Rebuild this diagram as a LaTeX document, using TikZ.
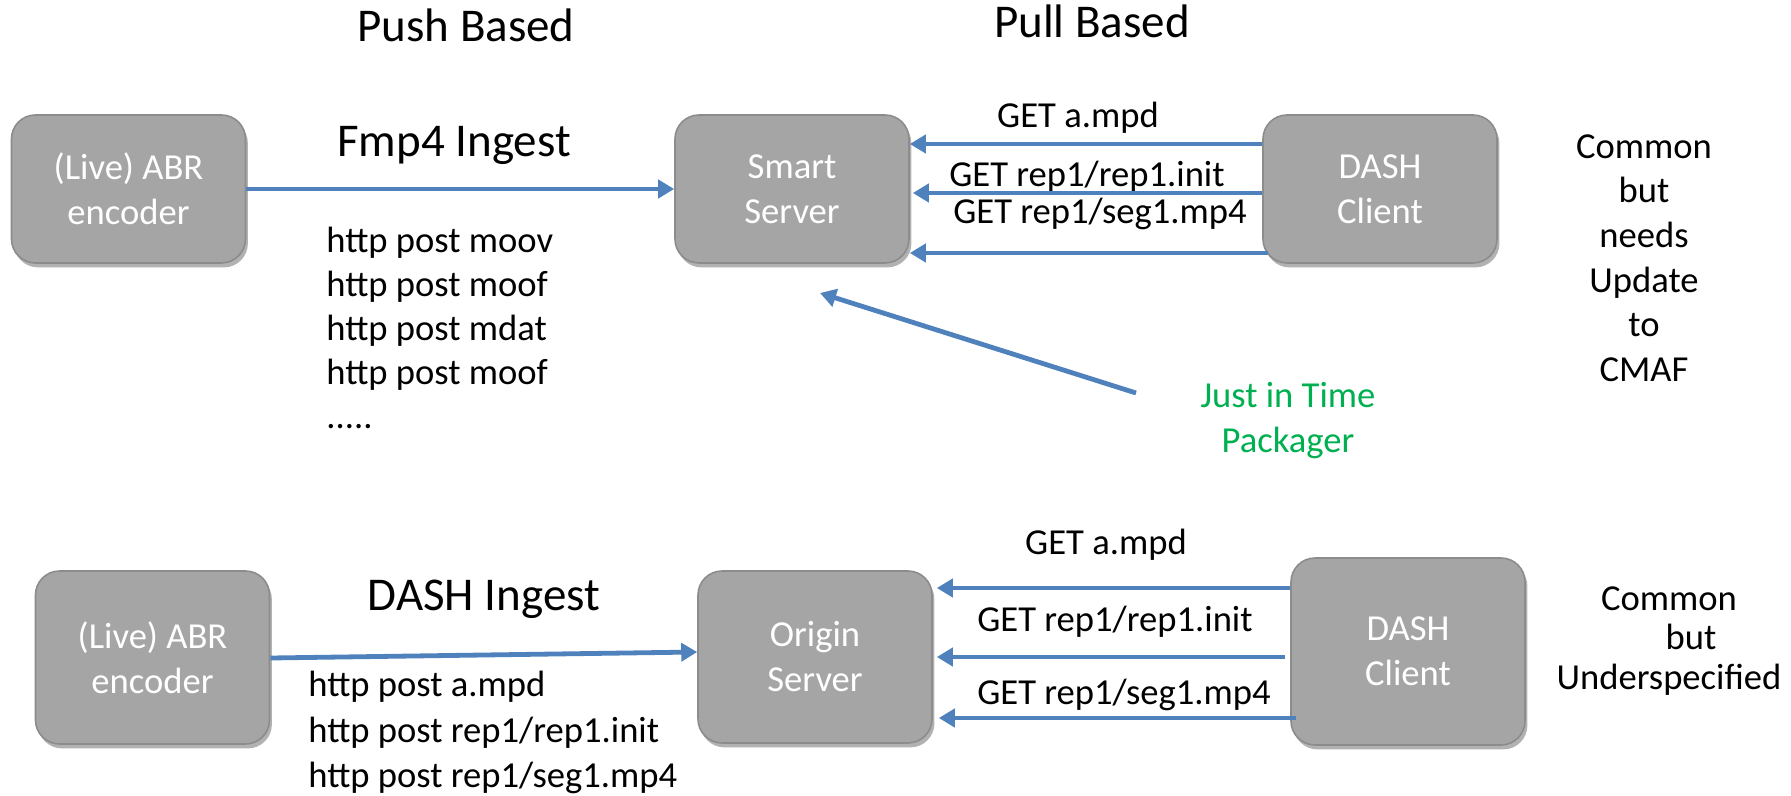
\documentclass[tikz,border=0pt]{standalone}
\usepackage{fontspec}
\setmainfont{Carlito}
\usetikzlibrary{arrows.meta,shadows}
\definecolor{boxfill}{HTML}{A5A5A5}
\definecolor{boxline}{HTML}{8C8C8C}
\definecolor{flowblue}{HTML}{4F81BD}
\definecolor{jitgreen}{HTML}{00B050}

\begin{document}
\begin{tikzpicture}[x=0.5pt,y=-0.5pt,
  box/.style={draw=boxline, fill=boxfill, line width=0.8pt, rounded corners=12pt,
    minimum width=117pt, text=white, align=center, inner sep=0pt,
    font=\fontsize{18.3}{22.5}\selectfont,
    drop shadow={shadow xshift=1.2pt, shadow yshift=-2.2pt, opacity=0.3, fill=black}},
  flow/.style={draw=flowblue, line width=2.4pt, -{Triangle[length=8pt,width=9pt]}},
  txt/.style={inner sep=0pt, font=\fontsize{18.3}{18.3}\selectfont},
  head/.style={inner sep=0pt, font=\fontsize{23.5}{23.5}\selectfont},
  lines/.style={inner sep=0pt, align=left, anchor=north west}
]
\useasboundingbox (0,0) rectangle (1791,796);

% column titles
\node[head] (push) at (466,25) {Push Based};
\node[head] (pull) at (1092,21) {Pull Based};

% ---- upper row: fmp4 ingest into a smart server ----
\node[box, minimum height=74pt] (enc1) at (128.5,189) {(Live) ABR\\encoder};
\node[box, minimum height=74pt] (smart) at (792,189) {Smart\\Server};
\node[box, minimum height=74pt] (client1) at (1380,189) {DASH\\Client};

\node[head] (fmp4) at (454,145) {Fmp4 Ingest};
\draw[flow] (enc1.east |- 0,189) -- (smart.west |- 0,189);

\node[lines, font=\fontsize{18.3}{22}\selectfont] (posts1) at (326,227)
  {http post moov\\http post moof\\http post mdat\\http post moof\\.....};

\node[txt] (g1) at (1078,118) {GET a.mpd};
\node[txt] (g2) at (1087,177) {GET rep1/rep1.init};
\node[txt] (g3) at (1100,214) {GET rep1/seg1.mp4};
\draw[flow] (client1.west |- 0,144) -- (smart.east |- 0,144);
\draw[flow] (client1.west |- 0,193) -- ([xshift=1.5pt]smart.east |- 0,193);
\draw[flow] ([xshift=3pt]client1.west |- 0,253) -- (smart.east |- 0,253);

% just-in-time packager pointer
\coordinate (jittail) at (1136,393);
\coordinate (jittip) at (820,293);
\draw[flow] (jittail) -- (jittip);
\node[txt, text=jitgreen, align=center, font=\fontsize{18.3}{22.5}\selectfont] (jit) at (1288,421) {Just in Time\\Packager};

\node[txt, align=center, font=\fontsize{18.3}{22.3}\selectfont] (note1) at (1644,258)
  {Common\\but\\needs\\Update\\to\\CMAF};

% ---- lower row: DASH ingest into an origin server ----
\node[box, minimum height=86.5pt] (enc2) at (152.5,657.5) {(Live) ABR\\encoder};
\node[box, minimum height=86pt] (origin) at (815,657) {Origin\\Server};
\node[box, minimum height=93.5pt] (client2) at (1408,651.5) {DASH\\Client};

\node[head] (dashin) at (484,599) {DASH Ingest};
\draw[flow] (enc2.east |- 0,658) -- (origin.west |- 0,652);

\node[lines, font=\fontsize{18.3}{22.75}\selectfont] (posts2) at (308,671)
  {http post a.mpd\\http post rep1/rep1.init\\http post rep1/seg1.mp4};

\node[txt] (h1) at (1106,545) {GET a.mpd};
\node[txt] (h2) at (1115,622) {GET rep1/rep1.init};
\node[txt] (h3) at (1124,695) {GET rep1/seg1.mp4};
\draw[flow] (client2.west |- 0,588) -- ([xshift=2pt]origin.east |- 0,588);
\draw[flow] ([xshift=-2.5pt]client2.west |- 0,657) -- ([xshift=2pt]origin.east |- 0,657);
\draw[flow] ([xshift=3pt]client2.west |- 0,718) -- ([xshift=3pt]origin.east |- 0,718);

\node[txt, align=center, font=\fontsize{18.3}{19.8}\selectfont] (note2) at (1669,641)
  {Common\\\hspace*{1.2em}but\\Underspecified};
\end{tikzpicture}
\end{document}
